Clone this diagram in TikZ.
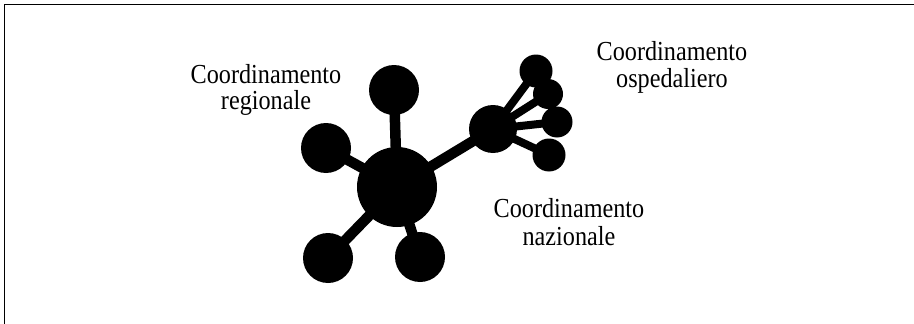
\documentclass[tikz,border=0pt]{standalone}
\usepackage{fontspec}
\setmainfont{Liberation Serif}
\newfontfamily\lblfont[FakeStretch=0.88]{Liberation Serif}
\begin{document}
\begin{tikzpicture}[x=1pt,y=-1pt,
  ball/.style={circle,fill=black,inner sep=0pt,minimum size=#1},
  spoke/.style={line width=10.5pt,black},
  twig/.style={line width=8pt,black},
  lbl/.style={anchor=base,inner sep=0pt,font=\lblfont\fontsize{27.5}{28}\selectfont}]
\useasboundingbox (0,0) rectangle (914,324);
\coordinate (tl) at (4.5,4.5);
\coordinate (tr) at (914,4.5);
\coordinate (bl) at (4.5,324);
\draw[line width=1.5pt] (tr) -- (tl) -- (bl);
% regional network
\node[ball=80pt] (C) at (397,187) {};
\node[ball=50pt] (T) at (394,90) {};
\node[ball=50pt] (L) at (326,148) {};
\node[ball=50pt] (BL) at (328,258) {};
\node[ball=50pt] (BR) at (420,257) {};
\node[ball=48pt] (H) at (493,129) {};
\node[ball=33pt] (s1) at (536,71) {};
\node[ball=30pt] (s2) at (548,94) {};
\node[ball=31pt] (s3) at (557,122) {};
\node[ball=33pt] (s4) at (549,155) {};
\foreach \n in {T,L,BL,BR,H} \draw[spoke] (C.center) -- (\n.center);
\foreach \n in {s1,s2,s3,s4} \draw[twig] (H.center) -- (\n.center);
% labels
\node[lbl] (r1) at (266,83) {Coordinamento};
\node[lbl] (r2) at (266,109) {regionale};
\node[lbl] (o1) at (672,60) {Coordinamento};
\node[lbl] (o2) at (672,87) {ospedaliero};
\node[lbl] (n1) at (569,217) {Coordinamento};
\node[lbl] (n2) at (569,245) {nazionale};
\end{tikzpicture}
\end{document}
